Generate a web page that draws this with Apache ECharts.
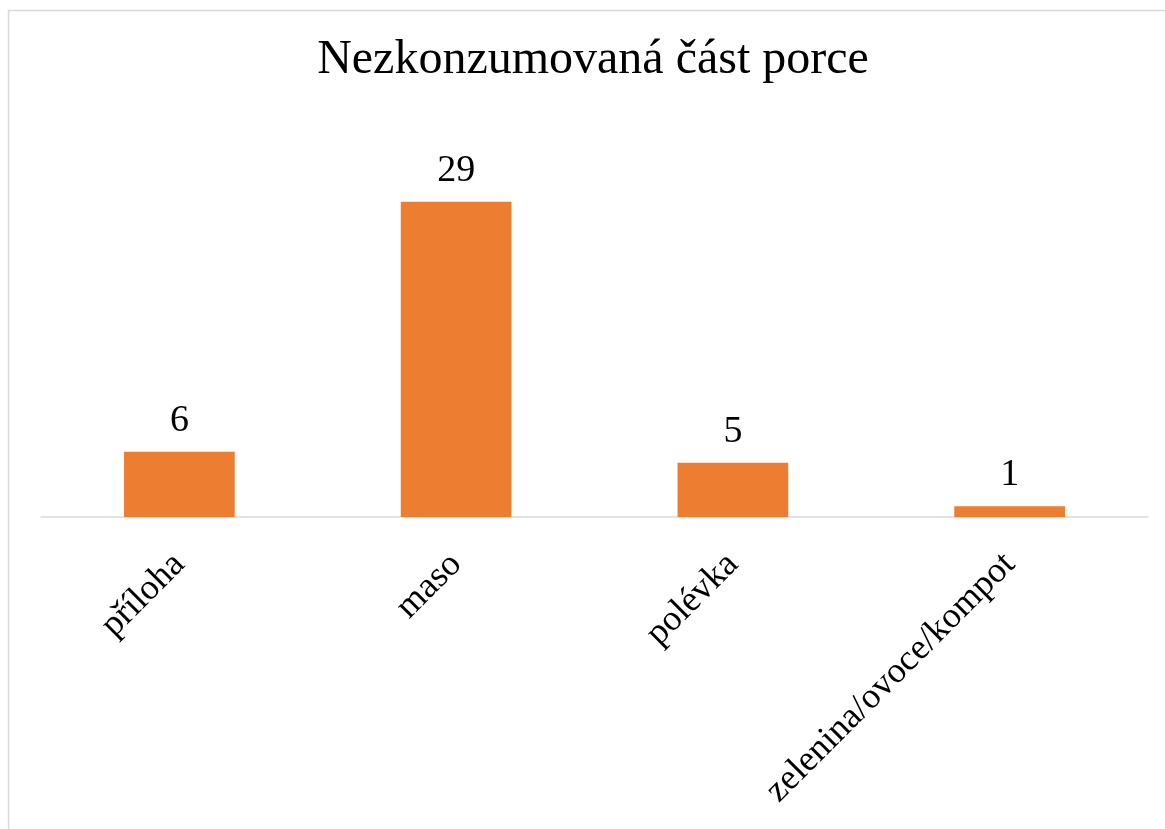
<!DOCTYPE html>
<html>
<head>
<meta charset="utf-8">
<script src="https://cdn.jsdelivr.net/npm/echarts@6/dist/echarts.min.js"></script>
<style>
html,body{margin:0;padding:0;background:#fff;}
#chart{width:1165px;height:829px;}
</style>
</head>
<body>
<div id="chart"></div>
<script>
var categories = ['příloha', 'maso', 'polévka', 'zelenina/ovoce/kompot'];
var values = [6, 29, 5, 1];
var titleText = 'Nezkonzumovaná část porce';

var FONT = '"Liberation Serif", "Times New Roman", serif';
var chart = echarts.init(document.getElementById('chart'), null, {renderer: 'canvas'});
chart.setOption({
  backgroundColor: '#ffffff',
  animation: false,
  title: {
    text: titleText,
    left: 588,
    top: 31,
    textAlign: 'center',
    textStyle: {fontFamily: FONT, fontSize: 48, fontWeight: 'normal', color: '#000'}
  },
  graphic: [{
    type: 'rect',
    shape: {x: 8.5, y: 10.5, width: 1300, height: 1000},
    style: {fill: 'none', stroke: '#d9d9d9', lineWidth: 1.5},
    silent: true, z: -1
  }],
  grid: {left: 41, right: 17, top: 136.5, bottom: 312, containLabel: false},
  xAxis: {
    type: 'category',
    data: categories,
    axisLine: {show: true, lineStyle: {color: '#d9d9d9', width: 1.5}},
    axisTick: {show: false},
    axisLabel: {
      rotate: 45, margin: 42, interval: 0,
      fontFamily: FONT, fontSize: 36, color: '#000'
    }
  },
  yAxis: {
    type: 'value', min: 0, max: 35, interval: 5,
    show: false,
    splitLine: {show: false}
  },
  series: [{
    type: 'bar',
    data: values,
    barWidth: '40%',
    itemStyle: {color: '#ED7D31'},
    label: {
      show: true, position: 'top', distance: 12,
      fontFamily: FONT, fontSize: 38, color: '#000'
    }
  }]
});
</script>
</body>
</html>
